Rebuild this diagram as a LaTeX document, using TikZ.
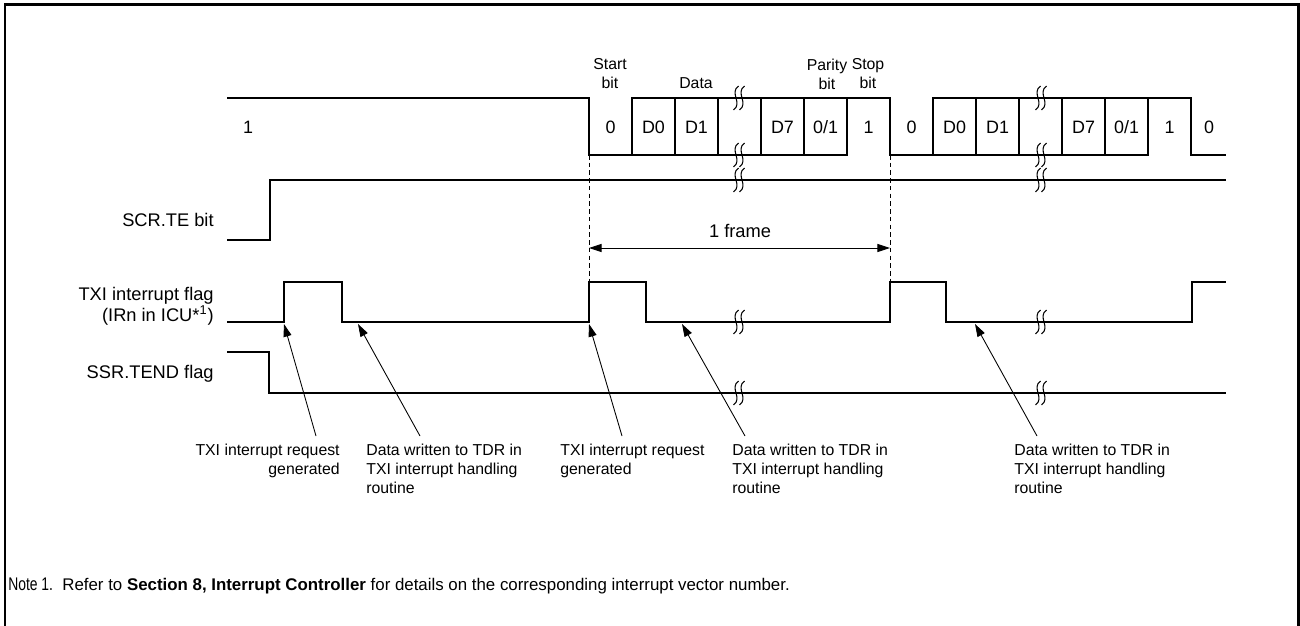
\documentclass[tikz,border=0pt]{standalone}
\usepackage{fontspec}
\setmainfont{Liberation Sans}
\usetikzlibrary{arrows.meta}

\tikzset{
  wave/.style={line width=1.1pt,line cap=rect},
  guide/.style={line width=0.5pt,dash pattern=on 2.6pt off 1.8pt},
  callout/.style={line width=0.5pt,-{Triangle[length=7.2pt,width=4.6pt]}},
  bitlbl/.style={inner sep=0pt,font=\fontsize{10.2}{12}\selectfont},
  toplbl/.style={inner sep=0pt,align=center,anchor=north,font=\fontsize{9}{10.8}\selectfont},
  sidelbl/.style={inner sep=0pt,align=right,font=\fontsize{10.4}{10.4}\selectfont},
  notelbl/.style={inner sep=0pt,anchor=north west,font=\fontsize{9}{10.8}\selectfont},
  brk/.pic={
    \foreach \dx in {-3,3}
      \draw[line width=0.6pt] (\dx+2.5,-12) .. controls (\dx-7,-5) and (\dx+7,5) .. (\dx-2.5,12);
  }
}

\begin{document}
\begin{tikzpicture}[x=0.02cm,y=-0.02cm,line join=miter]
\useasboundingbox (0,0) rectangle (1300,625);

% outer frame, its bottom edge lies below the page
\draw[line width=1.7pt] (5,640) -- (5,4.5) -- (1298.5,4.5) -- (1298.5,640);

% transmit line: high 98, low 155, one bit = 43, one frame = 301
\draw[wave] (228,98) -- (589,98) -- (589,155);
\foreach \s in {589,890} {
  \draw[wave] (\s,155) -- (\s+258,155);
  \draw[wave] (\s+43,155) -- (\s+43,98) -- (\s+301,98) -- (\s+301,155);
  \foreach \k in {2,...,6}
    \draw[wave] (\s+43*\k,98) -- (\s+43*\k,155);
  \foreach \t [count=\k from 0] in {0,D0,D1,{},D7,{0/1},1}
    \node[bitlbl] (b\s-\k) at (\s+21.5+43*\k,127) {\t};
}
\draw[wave] (1191,155) -- (1225,155);
\node[bitlbl] (idle) at (248,127) {1};
\node[bitlbl] (next) at (1209,127) {0};

% bit names above the first frame
\node[toplbl] (startbit) at (610,58.6) {Start\\bit};
\node[toplbl] (databits) at (696,77.6) {Data};
\node[toplbl] (paritybit) at (827,58.6) {Parity\\bit};
\node[toplbl] (stopbit) at (868,58.6) {Stop\\bit};

% SCR.TE bit
\draw[wave] (228,240) -- (270,240) -- (270,180) -- (1225,180);

% TXI interrupt flag
\draw[wave] (228,322) -- (284,322) -- (284,282) -- (342,282) -- (342,322)
  -- (589,322) -- (589,282) -- (646,282) -- (646,322)
  -- (890,322) -- (890,282) -- (946,282) -- (946,322)
  -- (1192,322) -- (1192,282) -- (1225,282);

% SSR.TEND flag
\draw[wave] (228,352) -- (269,352) -- (269,393) -- (1225,393);

% break marks
\foreach \x in {739,1041}
  \foreach \y in {98,155,180,322,393}
    \pic at (\x,\y) {brk};

% signal names
\node[sidelbl,anchor=base east] (te) at (214,226) {SCR.TE bit};
\node[sidelbl,anchor=north east] (txi) at (214,287) {TXI interrupt flag\\(IRn in ICU*\textsuperscript{1})};
\node[sidelbl,anchor=base east] (tend) at (214,378) {SSR.TEND flag};

% one frame
\draw[guide] (589,155) -- (589,282);
\draw[guide] (890,155) -- (890,282);
\draw[line width=0.5pt,{Triangle[length=7.2pt,width=4.6pt]}-{Triangle[length=7.2pt,width=4.6pt]}] (589,248) -- (890,248);
\node[sidelbl,anchor=base] (frm) at (740,237) {1 frame};

% event texts below
\node[notelbl,anchor=north east,align=right] (reqA) at (340,443.6) {TXI interrupt request\\generated};
\node[notelbl,align=left] (wrA) at (366,443.6) {Data written to TDR in\\TXI interrupt handling\\routine};
\node[notelbl,align=left] (reqB) at (560,443.6) {TXI interrupt request\\generated};
\node[notelbl,align=left] (wrB) at (732,443.6) {Data written to TDR in\\TXI interrupt handling\\routine};
\node[notelbl,align=left] (wrC) at (1014,443.6) {Data written to TDR in\\TXI interrupt handling\\routine};

% callout ends
\coordinate (tA) at (316,436); \coordinate (hA) at (284,324);
\coordinate (tB) at (420,436); \coordinate (hB) at (358,324);
\coordinate (tC) at (622,436); \coordinate (hC) at (589,324);
\coordinate (tD) at (745,436); \coordinate (hD) at (682,324);
\coordinate (tE) at (1037,436); \coordinate (hE) at (975,324);
\foreach \c in {A,B,C,D,E}
  \draw[callout] (t\c) -- (h\c);

% footnote
\node[inner sep=0pt,anchor=base west,xscale=0.76,transform shape,font=\fontsize{10.4}{11}\selectfont] (notenum) at (8,590) {Note 1.};
\node[inner sep=0pt,anchor=base west,font=\fontsize{9.6}{11}\selectfont] (notetxt) at (62,590)
  {Refer to \textbf{Section 8, Interrupt Controller} for details on the corresponding interrupt vector number.};

\end{tikzpicture}
\end{document}
